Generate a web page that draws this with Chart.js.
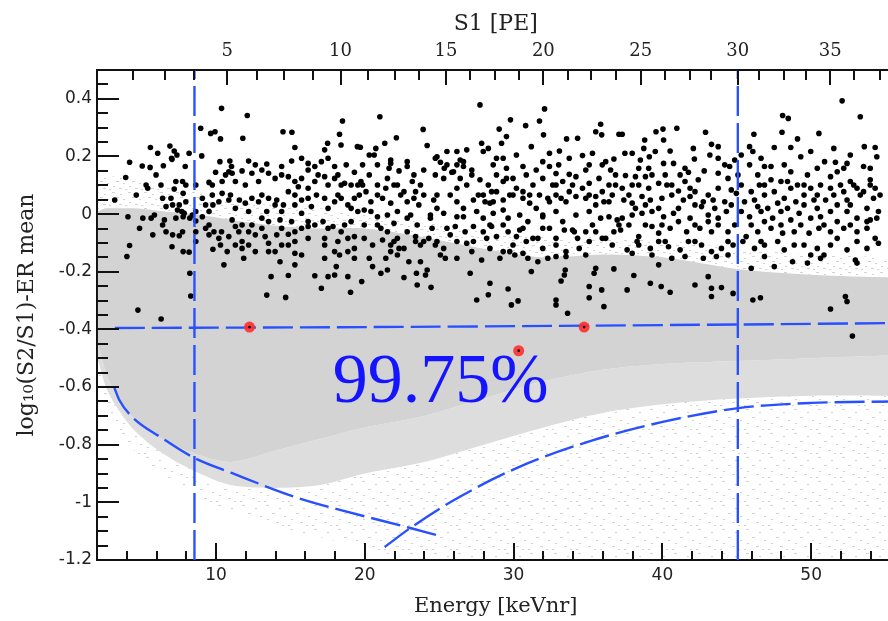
<!DOCTYPE html>
<html>
<head>
<meta charset="utf-8">
<script src="https://cdn.jsdelivr.net/npm/chart.js@4.4.1/dist/chart.umd.min.js"></script>
<style>
html,body{margin:0;padding:0;background:#fff;overflow:hidden;}
canvas{display:block;}
</style>
</head>
<body>
<canvas id="c" width="900" height="621"></canvas>
<script>
// ---------------- DATA ----------------
const energyRange = [2, 55.6];
const logRange = [-1.2, 0.5];
const energyTickLabels = [10, 20, 30, 40, 50];
const logTickLabels = [-1.2, -1, -0.8, -0.6, -0.4, -0.2, 0, 0.2, 0.4];
// top axis: S1 [PE] ticks and the energies where they sit
const s1TickValues = [1.25,2.5,3.75,5,6.25,7.5,8.75,10,11.25,12.5,13.75,15,16.25,17.5,18.75,20,21.25,22.5,23.75,25,26.25,27.5,28.75,30,31.25,32.5,33.75,35,36.25,37.5];
const s1TickEnergy = [4.39,6.55,8.51,10.76,12.73,14.56,16.52,18.37,20.19,22.01,23.64,25.46,27.09,28.74,30.34,32.0,33.66,35.23,36.88,38.55,40.17,41.84,43.29,45.07,46.51,48.18,49.63,51.28,52.90,54.62];

// grey ER band envelopes
const envEnergy     = [2.05, 2.6, 3.2, 4.5, 6.4, 8.5, 11, 14, 17, 20, 24, 28, 32, 36, 40, 45, 50, 55.6];
const fringeTop     = [0.12, 0.13, 0.13, 0.12, 0.10, 0.08, 0.05, 0.03, 0.02, 0.0, -0.03, -0.06, -0.08, -0.08, -0.09, -0.12, -0.14, -0.15];
const denseTop      = [0.01, 0.02, 0.02, 0.02, 0.01, 0.0, -0.02, -0.04, -0.05, -0.05, -0.08, -0.12, -0.15, -0.14, -0.15, -0.19, -0.21, -0.22];
const denseBottom   = [-0.45, -0.55, -0.62, -0.71, -0.78, -0.83, -0.86, -0.82, -0.78, -0.74, -0.70, -0.64, -0.58, -0.54, -0.52, -0.51, -0.50, -0.49];
const mottledBottom = [-0.5, -0.6, -0.66, -0.75, -0.83, -0.89, -0.94, -0.95, -0.94, -0.90, -0.86, -0.80, -0.74, -0.69, -0.66, -0.64, -0.63, -0.63];
const sparseBottom  = [-0.55, -0.66, -0.72, -0.82, -0.9, -0.97, -1.03, -1.08, -1.12, -1.16, -1.2, -1.2, -1.2, -1.2, -1.2, -1.2, -1.2, -1.2];

// black events (energy keVnr, log10(S2/S1)-ER mean), split by energy range
const blackEventsLow = [
[10.37,0.367],[12.1,0.342],[18.5,0.323],[8.97,0.298],[9.64,0.28],[9.93,0.286],[10.3,0.261],[11.8,0.263],[14.5,0.286],[15.1,0.284],[18.3,0.277],[15.3,0.231],[17.5,0.246],[17.3,0.223],[18.4,0.24],[19.5,0.234],[5.59,0.231],[6.08,0.211],[6.9,0.236],[7.19,0.219],[7.37,0.205],[7.01,0.194],[8.19,0.211],[9.04,0.202],[4.19,0.18],[5.04,0.167],[5.57,0.162],[6.46,0.168],[7.04,0.19],[7.93,0.165],[10.26,0.182],[10.93,0.184],[11.04,0.165],[12.19,0.184],[12.64,0.171],[13.41,0.174],[15.08,0.184],[15.75,0.194],[16.19,0.176],[16.64,0.165],[17.08,0.182],[17.53,0.194],[17.97,0.165],[18.75,0.171],[19.3,0.145],[3.93,0.127],[5.41,0.09],[6.3,0.101],[7.19,0.087],[7.75,0.113],[7.79,0.072],[8.64,0.101],[9.53,0.11],[9.97,0.145],[10.64,0.136],[11.08,0.142],[11.75,0.15],[12.41,0.142],[13.53,0.142],[14.41,0.136],[14.86,0.13],[15.3,0.113],[15.53,0.095],[16.19,0.09],[16.86,0.136],[17.3,0.13],[18.19,0.136],[18.64,0.107],[19.08,0.101],[19.53,0.101],[7.97,0.043],[6.97,0.055],[6.64,0.026],[7.41,0.014],[7.86,0.003],[8.24,-0.014],[8.64,-0.024],[9.08,0.055],[9.75,0.066],[9.79,0.032],[10.41,0.072],[10.97,0.066],[11.57,0.049],[11.97,0.038],[12.41,0.055],[13.08,0.066],[13.53,0.055],[14.08,0.049],[14.53,0.032],[14.86,0.078],[15.3,0.066],[16.19,0.055],[16.75,0.066],[17.3,0.055],[17.97,0.043],[18.41,0.055],[19.08,0.02],[19.53,0.009],[3.19,0.049],[4.08,-0.009],[5.64,-0.014],[6.53,-0.02],[7.3,-0.014],[9.08,-0.009],[9.53,-0.038],[9.86,-0.061],[10.37,-0.061],[11.08,-0.02],[11.75,-0.038],[12.41,-0.038],[13.08,-0.014],[13.53,-0.026],[14.3,-0.02],[15.08,-0.026],[15.75,0.003],[16.19,-0.026],[17.19,-0.026],[17.53,-0.049],[17.86,-0.043],[18.64,-0.038],[19.08,-0.026],[7.08,-0.072],[7.53,-0.075],[8.64,-0.061],[9.3,-0.049],[10.86,-0.078],[11.53,-0.061],[11.75,-0.095],[12.64,-0.072],[13.3,-0.078],[14.08,-0.072],[14.86,-0.07],[15.3,-0.061],[16.19,-0.043],[17.3,-0.084],[18.19,-0.095],[18.86,-0.084],[19.3,-0.078],[4.19,-0.109],[7.04,-0.113],[7.79,-0.13],[8.19,-0.132],[9.79,-0.122],[10.3,-0.107],[10.75,-0.13],[11.75,-0.119],[12.19,-0.107],[12.64,-0.13],[13.53,-0.101],[13.97,-0.13],[14.86,-0.107],[15.3,-0.136],[15.75,-0.142],[17.3,-0.153],[18.3,-0.142],[19.3,-0.119],[4.01,-0.147],[10.53,-0.176],[11.86,-0.153],[14.3,-0.165],[15.3,-0.176],[18.08,-0.182],[19.3,-0.153],[8.24,-0.205],[13.7,-0.217],[14.86,-0.213],[16.64,-0.214],[17.53,-0.217],[17.97,-0.211],[18.86,-0.217],[17.08,-0.257],[13.41,-0.281],[14.68,-0.289],[8.3,-0.284],[19.04,-0.271],[4.75,-0.333],[6.31,-0.364],
[7.53,0.032],[7.7,0.009],[8.41,-0.003],[8.64,0.009],[7.79,-0.009],[7.08,0.032],[6.41,0.055],[5.86,-0.003],[5.08,-0.014],[4.64,0.066],[5.3,0.101],[5.97,0.136],[7.3,0.113],[7.97,0.101],[9.3,0.032],[9.53,0.009],[10.19,0.043],[10.86,0.049],[11.3,0.02],[12.19,0.009],[12.86,0.043],[13.41,0.009],[13.97,0.032],[14.41,0.009],[15.3,0.032],[15.75,0.049],[16.41,0.026],[17.53,0.02],[18.19,0.066],[18.86,0.032],[19.3,0.055],[9.75,0.101],[10.41,0.113],[11.3,0.113],[11.97,0.101],[12.86,0.113],[13.97,0.124],[15.75,0.124],[16.64,0.113],[17.53,0.101],[18.41,0.101],[17.97,0.124],[10.86,0.147],[13.08,0.153],[16.19,0.153],[14.41,0.165],[11.3,-0.043],[12.19,-0.061],[13.08,-0.049],[14.41,-0.049],[15.75,-0.049],[16.64,-0.038],[18.41,-0.061],[17.3,-0.107],[16.19,-0.084],[15.3,-0.095],[13.53,-0.13],[14.41,-0.107],[17.97,-0.13],[18.86,-0.13],[11.3,-0.107],[10.19,-0.084],[9.53,-0.072],[8.64,-0.095],[7.75,-0.061],[6.41,-0.038],[6.64,-0.061],[5.75,-0.072],[4.86,-0.049]
];
const blackEventsMid = [
[27.74,0.379],[32.08,0.365],[21.01,0.338],[29.79,0.327],[31.74,0.323],[23.92,0.294],[29.03,0.295],[30.81,0.307],[35.85,0.312],[35.52,0.286],[35.92,0.275],[37.08,0.277],[22.12,0.265],[24.19,0.238],[21.34,0.246],[20.74,0.228],[19.7,0.232],[20.63,0.205],[27.85,0.246],[28.3,0.228],[29.19,0.246],[29.52,0.269],[31.19,0.234],[32.01,0.275],[32.41,0.211],[33.08,0.219],[33.56,0.261],[34.3,0.263],[34.63,0.203],[35.3,0.211],[36.74,0.191],[26.19,0.217],[26.85,0.223],[24.85,0.199],[25.52,0.171],[26.19,0.171],[26.63,0.182],[28.63,0.171],[29.3,0.194],[29.52,0.159],[30.63,0.165],[31.52,0.153],[32.41,0.165],[33.03,0.171],[33.74,0.138],[34.85,0.153],[35.96,0.171],[36.52,0.153],[19.85,0.171],[21.74,0.176],[22.85,0.182],[22.85,0.165],[22.3,0.15],[19.74,0.113],[20.3,0.136],[20.85,0.101],[21.52,0.124],[21.96,0.101],[22.63,0.078],[23.19,0.113],[23.74,0.101],[24.74,0.136],[25.3,0.124],[25.96,0.147],[26.41,0.124],[27.19,0.136],[27.74,0.119],[28.3,0.101],[28.85,0.136],[29.3,0.113],[29.96,0.124],[30.85,0.136],[31.3,0.101],[31.96,0.124],[32.63,0.101],[33.3,0.113],[33.96,0.101],[35.08,0.107],[35.74,0.124],[36.41,0.101],[36.85,0.136],[19.63,0.066],[20.41,0.043],[21.19,0.055],[21.74,0.038],[22.41,0.066],[23.3,0.055],[23.63,0.032],[24.63,0.049],[24.85,0.02],[25.74,0.066],[26.19,0.043],[26.63,0.02],[27.3,0.049],[27.96,0.066],[28.41,0.038],[28.85,0.078],[29.3,0.049],[29.96,0.066],[30.63,0.055],[31.08,0.038],[31.74,0.066],[32.41,0.043],[32.85,0.066],[33.52,0.043],[34.19,0.061],[34.85,0.055],[35.52,0.061],[36.07,0.043],[36.63,0.066],[19.96,0.014],[20.85,-0.009],[21.52,-0.003],[22.19,0.009],[23.08,-0.003],[24.41,-0.014],[25.3,0.003],[26.19,-0.009],[27.52,0.009],[27.96,-0.014],[28.63,0.003],[29.63,-0.014],[30.41,-0.003],[30.96,-0.026],[31.96,-0.009],[32.85,0.009],[33.3,-0.026],[34.19,-0.003],[35.08,0.009],[35.85,-0.014],[36.41,-0.009],[36.96,-0.02],[19.96,-0.038],[21.08,-0.049],[21.96,-0.032],[22.85,-0.061],[23.52,-0.038],[24.52,-0.049],[25.52,-0.049],[26.08,-0.043],[26.74,-0.061],[27.3,-0.043],[28.52,-0.043],[29.3,-0.038],[29.63,-0.061],[30.41,-0.055],[31.96,-0.049],[33.41,-0.055],[34.08,-0.061],[34.85,-0.061],[35.3,-0.038],[36.74,-0.061],[37.08,-0.038],[21.19,-0.09],[21.74,-0.107],[22.19,-0.084],[22.63,-0.119],[23.41,-0.095],[23.74,-0.107],[24.85,-0.095],[25.3,-0.119],[26.19,-0.095],[27.3,-0.095],[28.19,-0.084],[28.41,-0.119],[29.3,-0.13],[29.96,-0.107],[30.85,-0.095],[31.63,-0.084],[31.96,-0.119],[32.85,-0.107],[33.52,-0.13],[34.41,-0.119],[35.08,-0.095],[35.96,-0.084],[36.63,-0.107],[20.3,-0.153],[21.74,-0.13],[22.96,-0.165],[23.74,-0.165],[25.41,-0.153],[27.85,-0.159],[29.08,-0.153],[30.08,-0.142],[30.96,-0.153],[31.63,-0.165],[32.3,-0.153],[33.52,-0.147],[34.85,-0.142],[20.52,-0.182],[21.08,-0.205],[21.52,-0.194],[22.63,-0.22],[23.47,-0.205],[24.19,-0.194],[24.08,-0.211],[27.08,-0.205],[31.19,-0.199],[33.47,-0.194],[33.41,-0.211],[35.52,-0.188],[35.41,-0.205],[36.74,-0.19],[19.79,-0.234],[23.52,-0.246],[24.45,-0.254],[28.41,-0.24],[33.19,-0.232],[35.08,-0.251],[35.92,-0.263],[28.3,-0.28],[29.63,-0.26],[27.52,-0.298],[29.85,-0.315],[30.3,-0.301],[32.85,-0.298],[32.85,-0.315],[35.08,-0.29],[36.07,-0.321],[33.63,-0.344],
[24.74,0.194],[25.08,0.18],[25.34,0.159],[25.85,0.145],[26.41,0.188],[26.63,0.165],[27.19,0.153],[21.74,0.188],[21.63,0.159],[19.85,0.101],[20.08,0.078],[20.85,0.066],[21.41,0.09],[22.19,0.101],[22.85,0.043],[23.41,0.078],[23.96,0.066],[24.41,-0.003],[24.85,0.066],[26.19,0.09],[26.85,0.101],[27.63,0.066],[28.08,0.043],[28.52,0.078],[28.63,0.043],[29.74,0.066],[30.19,0.09],[30.63,0.078],[31.08,0.066],[31.52,0.02],[32.3,0.055],[32.85,0.101],[33.19,0.055],[33.74,0.078],[34.63,0.09],[35.08,0.066],[35.52,0.032],[35.96,0.078],[36.41,0.043],[36.85,0.101],[20.85,-0.038],[21.52,-0.061],[21.96,-0.095],[22.3,-0.119],[23.41,-0.078],[23.96,-0.095],[24.3,-0.084],[24.74,-0.107],[25.74,-0.072],[26.85,-0.101],[27.19,-0.13],[27.96,-0.061],[28.41,-0.038],[28.85,-0.078],[30.19,-0.078],[30.63,-0.049],[31.3,-0.084],[32.41,-0.049],[32.85,-0.084],[33.96,-0.055],[34.3,-0.084],[35.52,-0.061],[36.19,-0.084],[19.96,-0.084],[20.52,-0.107],[21.41,-0.153],[22.19,-0.142],[25.08,-0.142],[26.19,-0.153],[29.74,-0.13],[30.63,-0.136],[32.85,-0.147],[31.96,-0.003],[29.3,0.014],[26.63,-0.009],[22.85,-0.014],[20.41,0.009],[25.52,0.217],[27.96,0.217],[28.85,0.194],[30.19,0.205],[31.96,0.182],[33.74,0.194],[35.08,0.171],[36.19,0.182],[20.85,0.171],[23.96,0.153],[23.3,0.136],[29.52,0.124],[32.85,0.141],[34.19,0.13],[20.3,0.205]
];
const blackEventsHigh = [
[52.08,0.393],[53.3,0.338],[48.08,0.342],[48.46,0.332],[37.3,0.277],[39.57,0.286],[40.04,0.295],[40.97,0.298],[42.9,0.284],[40.08,0.257],[38.81,0.257],[46.15,0.277],[48.04,0.284],[50.52,0.28],[49.08,0.261],[37.48,0.211],[37.97,0.211],[38.52,0.188],[39.12,0.199],[38.75,0.228],[40.52,0.219],[40.08,0.176],[40.75,0.176],[42.08,0.228],[42.15,0.191],[43.19,0.205],[43.3,0.242],[43.75,0.234],[45.3,0.205],[45.86,0.234],[46.08,0.217],[46.63,0.194],[47.52,0.231],[48.63,0.231],[49.3,0.199],[48.19,0.171],[47.3,0.165],[50.9,0.182],[51.63,0.18],[52.63,0.205],[52.41,0.176],[53.57,0.234],[54.3,0.231],[54.41,0.199],[53.52,0.165],[37.52,0.134],[38.19,0.13],[38.86,0.13],[37.3,0.09],[37.97,0.101],[39.75,0.107],[40.3,0.101],[41.19,0.136],[41.75,0.145],[41.08,0.08],[41.86,0.09],[42.41,0.119],[42.81,0.15],[43.75,0.142],[44.19,0.171],[44.52,0.165],[44.63,0.084],[44.97,0.072],[45.86,0.171],[46.41,0.136],[46.52,0.101],[47.3,0.119],[47.97,0.113],[48.41,0.113],[49.08,0.101],[49.75,0.136],[49.97,0.09],[50.63,0.101],[51.3,0.13],[51.75,0.147],[51.97,0.101],[52.63,0.113],[53.08,0.09],[53.97,0.119],[54.3,0.09],[37.41,0.049],[37.97,0.038],[38.63,0.061],[39.19,0.049],[39.97,0.055],[40.63,0.066],[41.41,0.049],[41.86,0.061],[42.75,0.043],[43.41,0.049],[44.19,0.043],[45.52,0.043],[46.19,0.049],[46.86,0.066],[47.75,0.038],[48.19,0.055],[48.97,0.043],[49.52,0.066],[50.19,0.049],[50.97,0.049],[51.52,0.066],[52.41,0.049],[53.3,0.066],[54.19,0.055],[37.3,-0.014],[37.97,-0.003],[38.63,0.003],[39.3,0.009],[40.08,-0.009],[40.75,0.003],[41.86,-0.014],[42.63,0.026],[43.08,-0.003],[43.75,-0.014],[44.3,0.009],[45.86,-0.009],[46.63,0.009],[47.41,-0.014],[47.97,0.009],[48.63,-0.02],[49.19,0.003],[49.97,-0.014],[50.63,-0.009],[51.3,0.009],[52.41,0.009],[53.08,-0.014],[53.97,-0.02],[54.52,0.009],[37.19,-0.055],[38.41,-0.078],[39.3,-0.043],[39.75,-0.066],[40.52,-0.049],[41.63,-0.061],[42.52,-0.049],[43.3,-0.061],[43.75,-0.038],[44.41,-0.061],[45.63,-0.078],[46.41,-0.061],[47.3,-0.049],[48.08,-0.066],[48.86,-0.061],[49.86,-0.066],[50.52,-0.049],[51.3,-0.061],[52.19,-0.049],[53.08,-0.061],[53.75,-0.049],[54.3,-0.084],[37.63,-0.124],[38.3,-0.095],[39.19,-0.119],[39.75,-0.095],[40.41,-0.113],[41.19,-0.124],[41.75,-0.095],[42.63,-0.107],[43.3,-0.13],[43.97,-0.119],[44.75,-0.107],[45.41,-0.095],[46.19,-0.119],[46.86,-0.107],[47.75,-0.095],[48.19,-0.124],[49.52,-0.107],[50.41,-0.119],[50.86,-0.142],[52.41,-0.124],[53.08,-0.095],[54.52,-0.101],[37.97,-0.136],[39.75,-0.176],[40.63,-0.153],[41.52,-0.147],[42.75,-0.153],[43.63,-0.147],[45.97,-0.188],[47.52,-0.182],[48.75,-0.165],[49.75,-0.17],[50.63,-0.153],[52.97,-0.159],[53.08,-0.17],[38.08,-0.213],[39.19,-0.24],[39.92,-0.251],[40.52,-0.271],[42.19,-0.246],[43.08,-0.217],[43.3,-0.257],[43.97,-0.255],[44.75,-0.275],[43.3,-0.286],[37.63,-0.263],[46.08,-0.298],[46.59,-0.29],[52.3,-0.286],[52.41,-0.303],[51.3,-0.329],[52.77,-0.423],
[37.75,0.066],[38.41,0.101],[39.08,0.09],[39.3,0.136],[40.19,0.136],[40.63,0.101],[41.52,0.113],[42.19,0.078],[43.08,0.066],[43.75,0.09],[44.41,0.124],[45.08,0.136],[45.3,0.101],[45.97,0.078],[46.86,0.101],[47.52,0.078],[48.63,0.09],[49.52,0.101],[50.41,0.066],[51.3,0.09],[52.19,0.078],[52.86,0.101],[53.52,0.078],[53.97,0.101],[54.63,0.066],[38.19,0.02],[38.86,0.032],[39.75,0.02],[41.08,0.02],[42.19,0.032],[43.52,0.02],[44.63,0.032],[45.3,0.009],[46.41,0.026],[47.08,0.02],[48.41,0.02],[49.52,0.032],[50.41,0.02],[51.75,0.032],[52.63,0.032],[53.75,0.02],[54.41,-0.014],[37.75,-0.038],[38.86,-0.038],[39.97,-0.038],[41.08,-0.026],[42.19,-0.038],[43.08,-0.026],[44.86,-0.038],[45.97,-0.038],[46.86,-0.026],[47.97,-0.038],[49.3,-0.038],[50.86,-0.038],[51.75,-0.026],[52.63,-0.038],[53.75,-0.026],[38.41,-0.107],[40.19,-0.095],[42.19,-0.095],[44.41,-0.095],[46.63,-0.095],[48.86,-0.107],[51.3,-0.107],[51.75,-0.084],[53.75,-0.119],[39.3,-0.142],[44.41,-0.142],[46.86,-0.147],[49.97,-0.142],[38.41,0.159],[41.52,0.159],[44.86,0.188],[46.86,0.165],[48.63,0.147],[50.41,0.159],[52.19,0.159],[53.97,0.159],[39.52,0.217],[43.75,0.194],[49.97,0.217],[51.52,0.228],[39.08,0.159]
];

// red highlighted events
const redEnergy = [12.25, 34.74, 30.34];
const redLog    = [-0.392, -0.392, -0.474];

// blue cut lines
const cutEnergyLow = 8.55, cutEnergyHigh = 45.07;
const meanLineEnergy = [3.2, 20, 35, 45, 55.6];
const meanLineLog    = [-0.395, -0.392, -0.387, -0.383, -0.378];
const lowCurveEnergy = [3.17, 3.5, 4.37, 6.37, 8.44, 11.05, 15.52, 18.39, 23.06, 25.06];
const lowCurveLog    = [-0.603, -0.645, -0.704, -0.777, -0.843, -0.898, -0.985, -1.027, -1.089, -1.117];
const accCurveEnergy = [21.33, 23.06, 26.0, 30.2, 35.3, 40.02, 45.1, 50.0, 55.6];
const accCurveLog    = [-1.155, -1.089, -0.992, -0.881, -0.785, -0.721, -0.673, -0.655, -0.65];

const acceptanceLabel = '99.75%';
const acceptanceLabelAt = {x: 17.85, y: -0.652};

// ---------------- STYLE ----------------
const BLUE = 'rgb(40,80,255)';
const GREY = '#d3d3d3';
const MOTTLED = '#dddddd';

function makePattern(base, color, marks, size){
  const c = document.createElement('canvas');
  c.width = size; c.height = size;
  const g = c.getContext('2d');
  if (base){ g.fillStyle = base; g.fillRect(0,0,size,size); }
  g.fillStyle = color;
  marks.forEach(m => g.fillRect(m[0], m[1], m[2], 1));
  return g.createPattern(c, 'repeat');
}
// white with a few grey dashes
const sparsePattern = makePattern(null, GREY,
  [[2,1,3],[15,4,2],[8,9,3],[20,12,2],[3,15,2],[12,18,3],[0,21,2],[18,21,2]], 24);
const fringePattern = makePattern(null, GREY,
  [[0,0,3],[8,2,2],[4,5,3],[11,7,2],[1,10,2],[7,12,3],[13,13,2]], 16);

const zip = (xs, ys) => xs.map((x,i) => ({x, y: ys[i]}));
const toPoints = arr => arr.map(p => ({x: p[0], y: p[1]}));

const envDataset = (vals, fillTarget, bg) => ({
  type: 'line', data: zip(envEnergy, vals), borderWidth: 0, pointRadius: 0,
  tension: 0.3, fill: fillTarget === null ? false : {target: fillTarget},
  backgroundColor: bg || 'transparent', order: 10
});

const dashedLine = (data, extra) => Object.assign({
  type: 'line', data, borderColor: BLUE, borderWidth: 2.4, borderDash: [30, 7],
  pointRadius: 0, fill: false, order: 2
}, extra || {});

const eventDataset = arr => ({
  type: 'line', showLine: false, data: toPoints(arr),
  pointRadius: 2.8, pointBackgroundColor: '#000', pointBorderWidth: 0, order: 5
});

function tickSegment(ctx, x1, y1, x2, y2){
  ctx.fillRect(Math.min(x1, x2), Math.min(y1, y2), Math.max(Math.abs(x2 - x1), 2), Math.max(Math.abs(y2 - y1), 2));
}

const axisDecor = {
  id: 'axisDecor',
  afterDraw(chart){
    const ctx = chart.ctx;
    const a = chart.chartArea;
    const x = chart.scales.x, x2 = chart.scales.x2, y = chart.scales.y;
    ctx.save();
    ctx.globalAlpha = 1;
    ctx.globalCompositeOperation = 'source-over';
    ctx.fillStyle = '#111';
    // left axis: minor every 0.05, labelled every 0.2
    for (let k = 0; k <= 34; k++){
      const v = logRange[0] + k * 0.05;
      const py = Math.round(y.getPixelForValue(v)) - 1;
      const major = k % 4 === 0;
      tickSegment(ctx, a.left, py, a.left + (major ? 22 : 11), py + 2);
    }
    // bottom axis: minor every 2 keVnr, major every 10
    for (let e = 4; e < energyRange[1]; e += 2){
      const px = Math.round(x.getPixelForValue(e)) - 1;
      const major = e % 10 === 0;
      tickSegment(ctx, px, a.bottom - (major ? 17 : 9), px + 2, a.bottom);
    }
    // top axis: S1 ticks
    for (let i = 0; i < s1TickEnergy.length; i++){
      const px = Math.round(x2.getPixelForValue(s1TickEnergy[i])) - 1;
      const major = s1TickValues[i] % 5 === 0;
      tickSegment(ctx, px, a.top, px + 2, a.top + (major ? 15 : 10));
    }
    // annotation text
    ctx.fillStyle = '#1414ff';
    ctx.font = '70px "Liberation Serif", "Times New Roman", serif';
    ctx.textBaseline = 'alphabetic';
    ctx.textAlign = 'left';
    ctx.fillText(acceptanceLabel, x.getPixelForValue(acceptanceLabelAt.x), y.getPixelForValue(acceptanceLabelAt.y));
    ctx.restore();
  }
};

const serif = '"DejaVu Serif", serif';
const sans = '"DejaVu Sans", sans-serif';

new Chart(document.getElementById('c'), {
  type: 'line',
  data: {
    datasets: [
      envDataset(fringeTop, null),
      envDataset(denseTop, 0, fringePattern),
      envDataset(denseBottom, 1, GREY),
      envDataset(mottledBottom, 2, MOTTLED),
      envDataset(sparseBottom, 3, sparsePattern),
      eventDataset(blackEventsLow),
      eventDataset(blackEventsMid),
      eventDataset(blackEventsHigh),
      dashedLine(zip(meanLineEnergy, meanLineLog), {tension: 0.3}),
      dashedLine([{x: cutEnergyLow, y: logRange[0]}, {x: cutEnergyLow, y: logRange[1]}]),
      dashedLine([{x: cutEnergyHigh, y: logRange[0]}, {x: cutEnergyHigh, y: logRange[1]}]),
      dashedLine(zip(lowCurveEnergy, lowCurveLog), {cubicInterpolationMode: 'monotone'}),
      dashedLine(zip(accCurveEnergy, accCurveLog), {cubicInterpolationMode: 'monotone'}),
      { type: 'line', showLine: false, data: zip(redEnergy, redLog), pointRadius: 5.5,
        pointBackgroundColor: 'rgba(255,45,45,0.9)', pointBorderWidth: 0, order: 1 },
      { type: 'line', showLine: false, data: zip(redEnergy, redLog), pointRadius: 1.4,
        pointBackgroundColor: '#111', pointBorderWidth: 0, order: 0 }
    ]
  },
  options: {
    responsive: false,
    devicePixelRatio: 1,
    animation: false,
    events: [],
    layout: { padding: 0 },
    plugins: {
      legend: { display: false },
      tooltip: { enabled: false },
      filler: { drawTime: 'beforeDatasetsDraw', propagate: false }
    },
    scales: {
      x: {
        type: 'linear', position: 'bottom', min: energyRange[0], max: energyRange[1],
        grid: { display: false, drawTicks: false },
        border: { display: true, color: '#111', width: 2 },
        ticks: { font: { family: sans, size: 17 }, color: '#222', padding: 5, maxRotation: 0 },
        afterBuildTicks: s => { s.ticks = energyTickLabels.map(v => ({value: v})); },
        afterFit: s => { s.height = 61; },
        title: { display: true, text: 'Energy [keVnr]', font: { family: serif, size: 21 }, color: '#222', padding: { top: 0, bottom: 2 } }
      },
      x2: {
        type: 'linear', position: 'top', min: energyRange[0], max: energyRange[1],
        grid: { display: false, drawTicks: false },
        border: { display: true, color: '#111', width: 2 },
        ticks: { font: { family: serif, size: 18 }, color: '#222', padding: 8, maxRotation: 0,
          callback: (v) => { const i = s1TickEnergy.indexOf(v); return i >= 0 ? String(s1TickValues[i]) : ''; } },
        afterBuildTicks: s => { s.ticks = s1TickEnergy.filter((e, i) => s1TickValues[i] % 5 === 0).map(v => ({value: v})); },
        afterFit: s => { s.height = 70; },
        title: { display: true, text: 'S1 [PE]', font: { family: serif, size: 22 }, color: '#222', padding: { top: 11, bottom: 0 } }
      },
      y: {
        type: 'linear', position: 'left', min: logRange[0], max: logRange[1],
        grid: { display: false, drawTicks: false },
        border: { display: true, color: '#111', width: 2 },
        ticks: { font: { family: sans, size: 17 }, color: '#222', padding: 5,
          callback: v => String(Math.round(v * 100) / 100) },
        afterBuildTicks: s => { s.ticks = logTickLabels.map(v => ({value: v})); },
        afterFit: s => { s.width = 97; },
        title: { display: true, text: 'log₁₀(S2/S1)-ER mean', font: { family: serif, size: 22 }, color: '#222', padding: { top: 14, bottom: 0 } }
      }
    }
  },
  plugins: [axisDecor]
});
</script>
</body>
</html>
